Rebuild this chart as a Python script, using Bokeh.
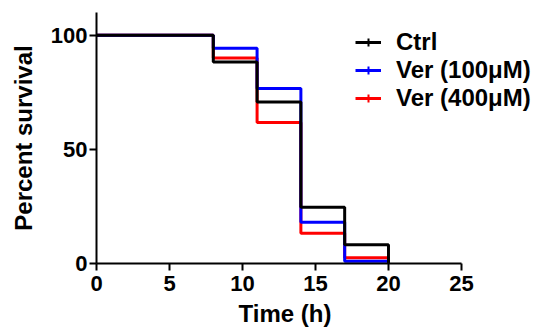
from bokeh.plotting import figure
from bokeh.models import Range1d, FixedTicker, Legend, LegendItem, Title
from bokeh.embed import file_html
from bokeh.resources import INLINE

times = [0, 8, 11, 14, 17, 20]
ctrl = [100, 88.3, 70.8, 24.6, 8.2, 0]
ver100 = [100, 94.3, 76.7, 18.1, 1.0, 0]
ver400 = [100, 90.1, 61.8, 13.3, 2.5, 0]
labels = ["Ctrl", "Ver (100μM)", "Ver (400μM)"]
colors = ["black", "#0000ff", "#ff0000"]
x_ticks = [0, 5, 10, 15, 20, 25]
y_ticks = [0, 50, 100]
x_label = "Time (h)"
y_label = "Percent survival"

FONT = "Liberation Sans"

p = figure(width=536, height=335, output_backend="svg", toolbar_location=None,
           x_range=Range1d(0, 30.14), y_range=Range1d(0, 110),
           min_border_left=96, min_border_right=0, min_border_top=12,
           min_border_bottom=72)
p.grid.visible = False
p.outline_line_color = None
p.background_fill_color = "white"
p.border_fill_color = "white"

series = [ctrl, ver100, ver400]
renderers = {}
nan = float("nan")
# draw red, blue, then black on top
for idx in [2, 1, 0]:
    r = p.step(times, series[idx], mode="after", line_color=colors[idx], line_width=3)
    # legend-only censor tick (no visible data point)
    t = p.scatter([nan], [nan], marker="cross", size=8,
                  line_color=colors[idx], line_width=2)
    renderers[idx] = [r, t]

items = [LegendItem(label=labels[i], renderers=renderers[i]) for i in range(3)]
legend = Legend(items=items, location=(259, 151), padding=0, margin=0,
                border_line_color=None, background_fill_alpha=0,
                glyph_width=26, glyph_height=20, label_height=20,
                label_standoff=15, spacing=0,
                label_text_font=FONT, label_text_font_style="bold",
                label_text_font_size="24px", label_text_color="black")
p.add_layout(legend, "center")

for ax in [p.xaxis[0], p.yaxis[0]]:
    ax.axis_line_width = 2
    ax.axis_line_color = "black"
    ax.major_tick_line_width = 2
    ax.major_tick_line_color = "black"
    ax.major_tick_out = 7
    ax.major_tick_in = 0
    ax.minor_tick_out = 0
    ax.minor_tick_in = 0
    ax.major_label_text_font = FONT
    ax.major_label_text_font_style = "bold"
    ax.major_label_text_font_size = "22px"
    ax.major_label_text_color = "black"
    ax.axis_label_text_font = FONT
    ax.axis_label_text_font_style = "bold"
    ax.axis_label_text_font_size = "24px"
    ax.axis_label_text_color = "black"

p.xaxis[0].ticker = FixedTicker(ticks=x_ticks)
p.xaxis[0].bounds = (0, 25)
p.xaxis[0].major_label_standoff = 5

# x-axis title placed under the centre of the bounded (0-25) axis
xt = Title(text=x_label, align="left", offset=142, standoff=8,
           text_font=FONT, text_font_style="bold", text_font_size="24px",
           text_color="black")
p.add_layout(xt, "below")

p.yaxis[0].ticker = FixedTicker(ticks=y_ticks)
p.yaxis[0].axis_label = y_label
p.yaxis[0].major_label_standoff = 2
p.yaxis[0].axis_label_standoff = 11

open("out.html", "w").write(file_html(p, INLINE))
